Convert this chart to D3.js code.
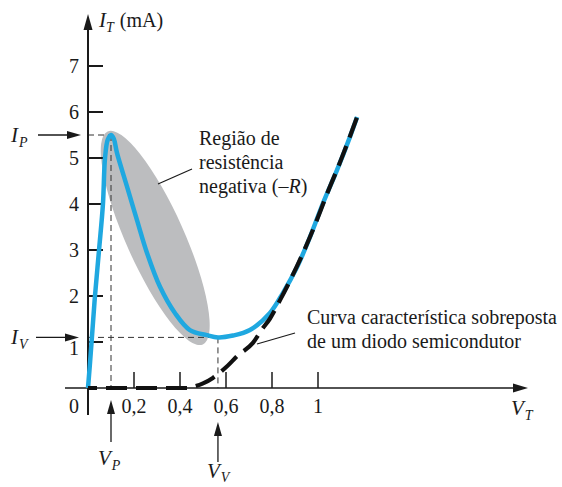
<!DOCTYPE html>
<html>
<head>
<meta charset="utf-8">
<script src="https://cdn.jsdelivr.net/npm/d3@7"></script>
<style>
  html, body { margin: 0; padding: 0; background: #ffffff; }
  svg { display: block; }
  text { font-family: "Liberation Serif", "Times New Roman", serif; fill: #1a1a1a; }
</style>
</head>
<body>
<svg id="chart" width="562" height="487"></svg>
<script>
// ---- Data (V in volts, I in mA) ----
const xTicks = [0.2, 0.4, 0.6, 0.8, 1];
const xTickLabels = ["0,2", "0,4", "0,6", "0,8", "1"];
const yTicks = [1, 2, 3, 4, 5, 6, 7];
const yTickLabels = ["1", "2", "3", "4", "5", "6", "7"];

// Tunnel diode characteristic (blue)
const tdV = [0, 0.008, 0.017, 0.03, 0.048, 0.065, 0.074, 0.086, 0.1, 0.112, 0.126, 0.17, 0.213, 0.257, 0.313, 0.378, 0.443, 0.517, 0.565, 0.63, 0.704, 0.791, 0.848, 0.909, 0.965, 1.022, 1.083, 1.139, 1.17];
const tdI = [0, 0.5, 1.1, 1.98, 3.0, 4.0, 5.0, 5.4, 5.5, 5.42, 5.11, 4.37, 3.65, 2.93, 2.2, 1.63, 1.26, 1.15, 1.1, 1.14, 1.26, 1.63, 2.07, 2.63, 3.28, 4.02, 4.74, 5.46, 5.89];

// Superimposed semiconductor diode characteristic (black dashed)
const dV = [0, 0.2, 0.43, 0.46, 0.5, 0.543, 0.6, 0.65, 0.717, 0.76, 0.79, 0.835, 0.88, 0.93, 0.98, 1.04, 1.1, 1.17];
const dI = [0, 0, 0, 0.03, 0.1, 0.22, 0.45, 0.7, 0.98, 1.3, 1.5, 1.91, 2.35, 2.88, 3.46, 4.23, 4.96, 5.89];

// Key points
const Vp = 0.1, Ip = 5.5;
const Vv = 0.565, Iv = 1.1;

// Negative-resistance region (ellipse ends, in data units)
const regionEnds = [[0.094, 5.62], [0.508, 0.99]];

// ---- Scales ----
const svg = d3.select("#chart");
const x = d3.scaleLinear().domain([0, 1]).range([88, 318]);
const y = d3.scaleLinear().domain([0, 7]).range([388, 66]);

const BLUE = "#1fa8e0";
const GRAY = "#bcbdbf";
const INK = "#1a1a1a";

// ---- Shaded ellipse ----
{
  const [a, b] = regionEnds.map(p => [x(p[0]), y(p[1])]);
  const cx = (a[0] + b[0]) / 2, cy = (a[1] + b[1]) / 2;
  const rx = Math.hypot(b[0] - a[0], b[1] - a[1]) / 2;
  const ang = Math.atan2(b[1] - a[1], b[0] - a[0]) * 180 / Math.PI;
  svg.append("ellipse")
    .attr("cx", 0).attr("cy", 0).attr("rx", rx).attr("ry", 29)
    .attr("transform", `translate(${cx - 2},${cy + 2}) rotate(${ang})`)
    .attr("fill", GRAY);
}

// ---- Dashed reference lines ----
const refDash = "6,4";
function refLine(x1, y1, x2, y2) {
  svg.append("line").attr("x1", x1).attr("y1", y1).attr("x2", x2).attr("y2", y2)
    .attr("stroke", "#333").attr("stroke-width", 1).attr("stroke-dasharray", refDash);
}
refLine(x(0), y(Ip), x(Vp), y(Ip));
refLine(x(Vp), y(Ip), x(Vp), y(0));
refLine(x(0), y(Iv), x(Vv), y(Iv));
refLine(x(Vv), y(Iv), x(Vv), y(0));

// ---- Axes ----
svg.append("line").attr("x1", 65).attr("y1", y(0)).attr("x2", 516).attr("y2", y(0))
  .attr("stroke", INK).attr("stroke-width", 1.6);
svg.append("path").attr("d", `M528,${y(0)} L513,${y(0) - 4.5} L513,${y(0) + 4.5} Z`).attr("fill", INK);
svg.append("line").attr("x1", x(0)).attr("y1", 415).attr("x2", x(0)).attr("y2", 28)
  .attr("stroke", INK).attr("stroke-width", 2);
svg.append("path").attr("d", `M${x(0)},14 L${x(0) - 4.5},30 L${x(0) + 4.5},30 Z`).attr("fill", INK);

svg.selectAll(".xt").data(xTicks).enter().append("line")
  .attr("x1", d => x(d)).attr("x2", d => x(d))
  .attr("y1", y(0)).attr("y2", y(0) - 16)
  .attr("stroke", INK).attr("stroke-width", 1.5);
svg.selectAll(".xl").data(xTicks).enter().append("text")
  .attr("x", d => x(d)).attr("y", 413)
  .attr("text-anchor", "middle").attr("font-size", 20)
  .text((d, i) => xTickLabels[i]);
svg.append("text").attr("x", 74).attr("y", 413).attr("text-anchor", "middle")
  .attr("font-size", 20).text("0");

svg.selectAll(".yt").data(yTicks).enter().append("line")
  .attr("x1", x(0)).attr("x2", x(0) + 15)
  .attr("y1", d => y(d)).attr("y2", d => y(d))
  .attr("stroke", INK).attr("stroke-width", 2);
svg.selectAll(".yl").data(yTicks).enter().append("text")
  .attr("x", 79).attr("y", d => y(d) + (d === 1 ? 13 : 7))
  .attr("text-anchor", "end").attr("font-size", 20)
  .text((d, i) => yTickLabels[i]);

// ---- Curves ----
const tdLine = d3.line().x(d => x(d[0])).y(d => y(d[1])).curve(d3.curveCatmullRom.alpha(0.5));
svg.append("path").datum(tdV.map((v, i) => [v, tdI[i]]))
  .attr("d", tdLine).attr("fill", "none").attr("stroke", BLUE)
  .attr("stroke-width", 4.5).attr("stroke-linejoin", "round");

const dLine = d3.line().x(d => x(d[0])).y(d => y(d[1])).curve(d3.curveMonotoneX);
svg.append("path").datum(dV.map((v, i) => [v, dI[i]]))
  .attr("d", dLine).attr("fill", "none").attr("stroke", "#111")
  .attr("stroke-width", 4.2).attr("stroke-dasharray", "21,9").attr("stroke-dashoffset", 12);

// ---- Arrows to key points ----
function hArrow(x1, x2, yy) {
  svg.append("line").attr("x1", x1).attr("y1", yy).attr("x2", x2 - 10).attr("y2", yy)
    .attr("stroke", INK).attr("stroke-width", 1.3);
  svg.append("path").attr("d", `M${x2},${yy} L${x2 - 14},${yy - 4} L${x2 - 14},${yy + 4} Z`).attr("fill", INK);
}
function vArrow(xx, y1, y2) {
  svg.append("line").attr("x1", xx).attr("y1", y1).attr("x2", xx).attr("y2", y2 + 10)
    .attr("stroke", INK).attr("stroke-width", 1.3);
  svg.append("path").attr("d", `M${xx},${y2} L${xx - 4},${y2 + 14} L${xx + 4},${y2 + 14} Z`).attr("fill", INK);
}
hArrow(38, 81, y(Ip));
hArrow(36, 79, y(Iv));
vArrow(x(Vp), 442, 400);
vArrow(x(Vv), 462, 422);

// ---- Symbol labels ----
function sym(xx, yy, main, sub, dy) {
  const t = svg.append("text").attr("x", xx).attr("y", yy).attr("font-size", 21)
    .attr("font-style", "italic");
  t.append("tspan").text(main);
  t.append("tspan").attr("font-size", 14).attr("dy", dy || 5).attr("dx", 1).text(sub);
  return t;
}
{
  const t = svg.append("text").attr("x", 99).attr("y", 27).attr("font-size", 21);
  t.append("tspan").attr("font-style", "italic").text("I");
  t.append("tspan").attr("font-style", "italic").attr("font-size", 14).attr("dy", 5).attr("dx", 0).text("T");
  t.append("tspan").attr("dy", -5).attr("dx", 6).attr("font-size", 20).text("(mA)");
}
sym(11, 142, "I", "P");
sym(11, 344, "I", "V");
sym(98, 465, "V", "P");
sym(207, 478, "V", "V", 4);
sym(511, 415, "V", "T");

// ---- Annotations ----
svg.append("line").attr("x1", 158).attr("y1", 184).attr("x2", 192).attr("y2", 169)
  .attr("stroke", INK).attr("stroke-width", 1.2);
{
  const t = svg.append("text").attr("x", 199).attr("y", 145).attr("font-size", 20);
  t.append("tspan").attr("x", 199).attr("dy", 0).text("Região de");
  t.append("tspan").attr("x", 199).attr("dy", 24).text("resistência");
  const l3 = t.append("tspan").attr("x", 199).attr("dy", 24);
  l3.append("tspan").text("negativa (–");
  l3.append("tspan").attr("font-style", "italic").text("R");
  l3.append("tspan").text(")");
}
svg.append("line").attr("x1", 257).attr("y1", 344).attr("x2", 295).attr("y2", 333)
  .attr("stroke", INK).attr("stroke-width", 1.2);
{
  const t = svg.append("text").attr("x", 307).attr("y", 324).attr("font-size", 20);
  t.append("tspan").attr("x", 307).attr("dy", 0).text("Curva característica sobreposta");
  t.append("tspan").attr("x", 307).attr("dy", 24).text("de um diodo semicondutor");
}
</script>
</body>
</html>
